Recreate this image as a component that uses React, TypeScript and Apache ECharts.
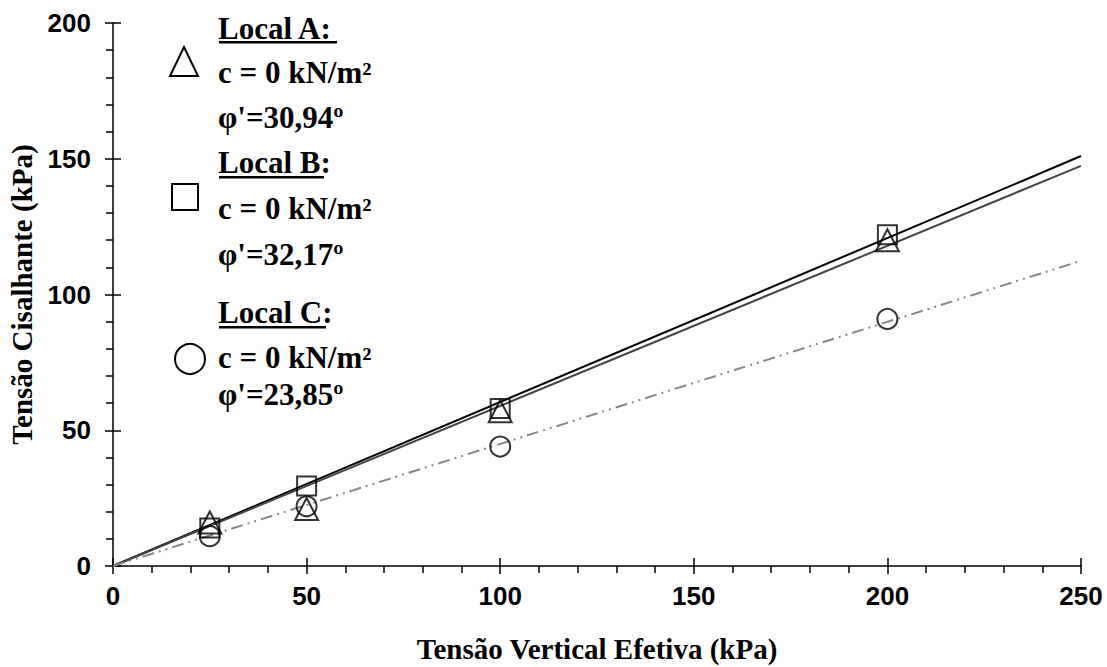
import React, { useEffect, useRef } from "react";
import * as echarts from "echarts";

const xTicks = [0, 50, 100, 150, 200, 250];
const yTicks = [0, 50, 100, 150, 200];

const sigmaA = [25, 50, 100, 200];
const tauA = [16, 21, 57, 120];
const sigmaB = [25, 50, 100, 200];
const tauB = [14, 29.5, 58, 122];
const sigmaC = [25, 50, 100, 200];
const tauC = [11, 22, 44, 91];

const fitX = [0, 250];
const fitA = [0, 147.4];
const fitB = [0, 151];
const fitC = [0, 112.4];

const legendLines = [
  "Local A:",
  "c = 0 kN/m²",
  "φ'=30,94º",
  "Local B:",
  "c = 0 kN/m²",
  "φ'=32,17º",
  "Local C:",
  "c = 0 kN/m²",
  "φ'=23,85º",
];

const pairs = (xs: number[], ys: number[]) => xs.map((x, i) => [x, ys[i]]);

export default function App() {
  const ref = useRef<HTMLDivElement>(null);
  useEffect(() => {
    document.body.style.margin = "0";
    if (!ref.current) return;
    const chart = echarts.init(ref.current, undefined, { renderer: "svg" });
    const serif = "'Liberation Serif', 'Times New Roman', serif";
    const sans = "'Liberation Sans', Arial, sans-serif";
    const tickLabel = {
      fontFamily: sans,
      fontWeight: "bold" as const,
      fontSize: 26,
      color: "#000",
    };
    const lineY = [28, 72, 117, 162, 208, 254, 312, 357, 394];
    const textEls = legendLines.map((t, i) => ({
      type: "text",
      x: 218,
      y: lineY[i],
      style: {
        text: t,
        fontFamily: serif,
        fontWeight: "bold",
        fontSize: 31,
        fill: "#000",
        verticalAlign: "middle",
        align: "left",
      },
      z: 100,
    }));
    const underlines = [
      { x: 219, y: 41, w: 118 },
      { x: 219, y: 176, w: 105 },
      { x: 219, y: 326, w: 107 },
    ].map((u) => ({
      type: "rect",
      shape: { x: u.x, y: u.y, width: u.w, height: 2.5 },
      style: { fill: "#000" },
      z: 100,
    }));
    const markerStyle = { fill: "none", stroke: "#000", lineWidth: 2 };
    const markers = [
      {
        type: "polygon",
        shape: { points: [[170, 76], [184, 47], [198, 76]] },
        style: markerStyle,
        z: 100,
      },
      {
        type: "rect",
        shape: { x: 172, y: 184, width: 26, height: 26 },
        style: markerStyle,
        z: 100,
      },
      {
        type: "circle",
        shape: { cx: 190, cy: 359, r: 15 },
        style: markerStyle,
        z: 100,
      },
    ];

    const baseX = {
      type: "value" as const,
      min: xTicks[0],
      max: xTicks[xTicks.length - 1],
      interval: 50,
      position: "bottom" as const,
      splitLine: { show: false },
    };
    const baseY = {
      type: "value" as const,
      min: yTicks[0],
      max: yTicks[yTicks.length - 1],
      interval: 50,
      position: "left" as const,
      splitLine: { show: false },
    };

    chart.setOption({
      animation: false,
      backgroundColor: "#fff",
      grid: {
        left: 113,
        right: 26,
        top: 23,
        bottom: 101,
        containLabel: false,
        outerBoundsMode: "none",
      },
      xAxis: [
        {
          ...baseX,
          name: "Tensão Vertical Efetiva (kPa)",
          nameLocation: "middle",
          nameGap: 68,
          nameTextStyle: {
            fontFamily: serif,
            fontWeight: "bold",
            fontSize: 29,
            color: "#000",
          },
          axisLine: { show: true, lineStyle: { color: "#000", width: 1.5 } },
          axisTick: { show: true, length: 8, lineStyle: { color: "#000", width: 1.5 } },
          minorTick: { show: true, splitNumber: 5, length: 7, lineStyle: { color: "#000", width: 1.5 } },
          axisLabel: { ...tickLabel, margin: 17 },
        },
        {
          ...baseX,
          axisLine: { show: false },
          axisTick: { show: true, inside: true, length: 8, lineStyle: { color: "#000", width: 1.5 } },
          axisLabel: { show: false },
        },
      ],
      yAxis: [
        {
          ...baseY,
          name: "Tensão Cisalhante (kPa)",
          nameLocation: "middle",
          nameGap: 74,
          nameTextStyle: {
            fontFamily: serif,
            fontWeight: "bold",
            fontSize: 29,
            color: "#000",
          },
          axisLine: { show: true, lineStyle: { color: "#000", width: 1.5 } },
          axisTick: { show: true, length: 8, lineStyle: { color: "#000", width: 1.5 } },
          minorTick: { show: true, splitNumber: 5, length: 7, lineStyle: { color: "#000", width: 1.5 } },
          axisLabel: { ...tickLabel, margin: 22 },
        },
        {
          ...baseY,
          axisLine: { show: false },
          axisTick: { show: true, inside: true, length: 8, lineStyle: { color: "#000", width: 1.5 } },
          axisLabel: { show: false },
        },
      ],
      graphic: [...underlines, ...markers, ...textEls],
      series: [
        {
          name: "Ajuste B",
          type: "line",
          data: pairs(fitX, fitB),
          showSymbol: false,
          lineStyle: { color: "#000", width: 2 },
          z: 2,
        },
        {
          name: "Ajuste A",
          type: "line",
          data: pairs(fitX, fitA),
          showSymbol: false,
          lineStyle: { color: "#444", width: 2 },
          z: 2,
        },
        {
          name: "Ajuste C",
          type: "line",
          data: pairs(fitX, fitC),
          showSymbol: false,
          lineStyle: { color: "#888", width: 2, type: [12, 5, 2, 5, 2, 5] },
          z: 2,
        },
        {
          name: "Local A",
          type: "scatter",
          data: pairs(sigmaA, tauA),
          symbol: "triangle",
          symbolSize: [23, 22],
          itemStyle: { color: "transparent", borderColor: "#000", borderWidth: 2 },
          z: 3,
        },
        {
          name: "Local B",
          type: "scatter",
          data: pairs(sigmaB, tauB),
          symbol: "rect",
          symbolSize: 19,
          itemStyle: { color: "transparent", borderColor: "#000", borderWidth: 2 },
          z: 3,
        },
        {
          name: "Local C",
          type: "scatter",
          data: pairs(sigmaC, tauC),
          symbol: "circle",
          symbolSize: 20,
          itemStyle: { color: "transparent", borderColor: "#000", borderWidth: 2 },
          z: 3,
        },
      ],
    });
    return () => chart.dispose();
  }, []);
  return <div ref={ref} style={{ width: 1107, height: 667 }} />;
}
